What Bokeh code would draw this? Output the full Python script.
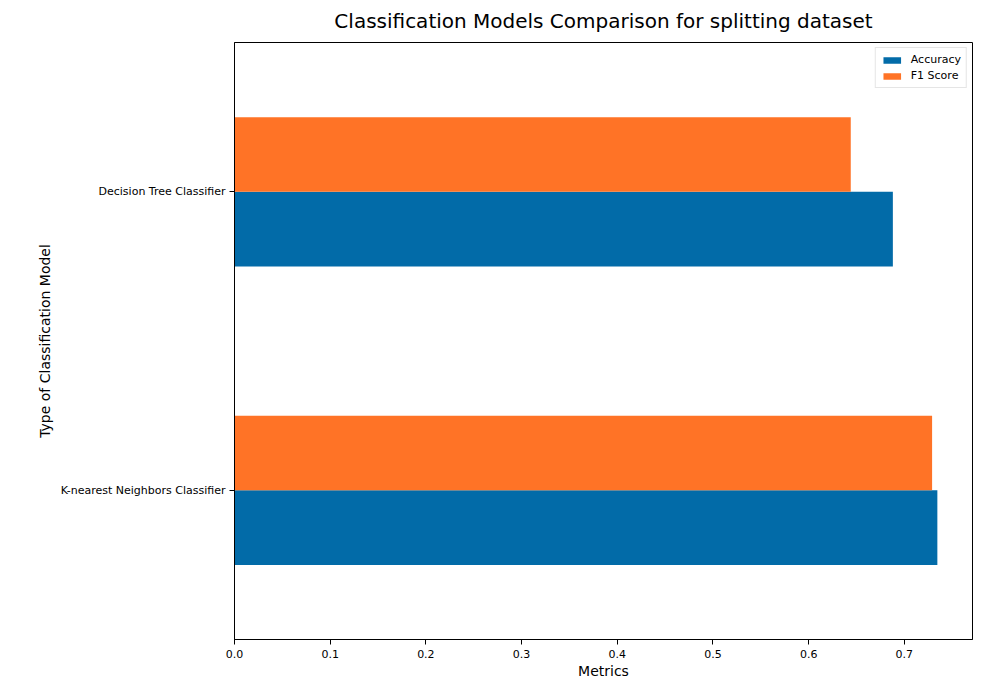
from bokeh.plotting import figure
from bokeh.models import FactorRange, Range1d, FixedTicker, PrintfTickFormatter, ColumnDataSource, Legend, LegendItem
from bokeh.transform import dodge
from bokeh.embed import file_html
from bokeh.resources import INLINE

models = ["K-nearest Neighbors Classifier", "Decision Tree Classifier"]
accuracy = [0.7345, 0.688]
f1_score = [0.729, 0.644]
x_ticks = [0.0, 0.1, 0.2, 0.3, 0.4, 0.5, 0.6, 0.7]

BLUE = "#026ba8"
ORANGE = "#ff7326"
FONT = "DejaVu Sans"

src = ColumnDataSource(dict(model=models, acc=accuracy, f1=f1_score))

p = figure(width=993, height=683, output_backend="svg", toolbar_location=None,
           y_range=FactorRange(factors=models, range_padding=0),
           x_range=Range1d(0, max(accuracy) * 1.05),
           min_border_left=234, min_border_right=21, min_border_top=42, min_border_bottom=44)

r_acc = p.hbar(y=dodge("model", -0.125, range=p.y_range), right="acc", left=0, height=0.25,
               source=src, color=BLUE, line_color=None)
r_f1 = p.hbar(y=dodge("model", 0.125, range=p.y_range), right="f1", left=0, height=0.25,
              source=src, color=ORANGE, line_color=None)

p.title.text = "Classification Models Comparison for splitting dataset"
p.title.align = "center"
p.title.text_font = FONT
p.title.text_font_size = "20px"
p.title.text_font_style = "normal"
p.title.text_color = "#000000"
p.title.offset = 0
p.title.standoff = 16
p.title.vertical_align = "top"

p.xaxis.ticker = FixedTicker(ticks=x_ticks)
p.xaxis.formatter = PrintfTickFormatter(format="%.1f")
p.xaxis.axis_label = "Metrics"
p.yaxis.axis_label = "Type of Classification Model"
for ax in (p.xaxis, p.yaxis):
    ax.axis_label_text_font = FONT
    ax.axis_label_text_font_size = "14px"
    ax.axis_label_text_font_style = "normal"
    ax.axis_label_text_color = "#000000"
    ax.major_label_text_font = FONT
    ax.major_label_text_font_size = "11px"
    ax.major_label_text_color = "#000000"
    ax.axis_line_color = "#000000"
    ax.major_tick_line_color = "#000000"
    ax.major_tick_out = 5
    ax.major_tick_in = 0
    ax.minor_tick_line_color = None
    ax.major_label_standoff = 4
    ax.axis_label_standoff = 5
p.xaxis.major_label_standoff = 5
p.xaxis.axis_label_standoff = 2
p.yaxis.group_text_font_size = "0px"

p.xgrid.grid_line_color = None
p.ygrid.grid_line_color = None
p.outline_line_color = "#000000"
p.outline_line_width = 1
p.outline_line_alpha = 1

legend = Legend(items=[LegendItem(label="Accuracy", renderers=[r_acc]),
                       LegendItem(label="F1 Score", renderers=[r_f1])],
                location="top_right")
legend.label_text_font = FONT
legend.label_text_font_size = "11px"
legend.label_text_color = "#000000"
legend.glyph_width = 22
legend.glyph_height = 8
legend.label_height = 10
legend.spacing = 3
legend.padding = 5
legend.margin = 5
legend.border_line_color = "#cccccc"
legend.border_line_width = 1
legend.label_standoff = 8
p.add_layout(legend)

open("out.html", "w").write(file_html(p, INLINE))
